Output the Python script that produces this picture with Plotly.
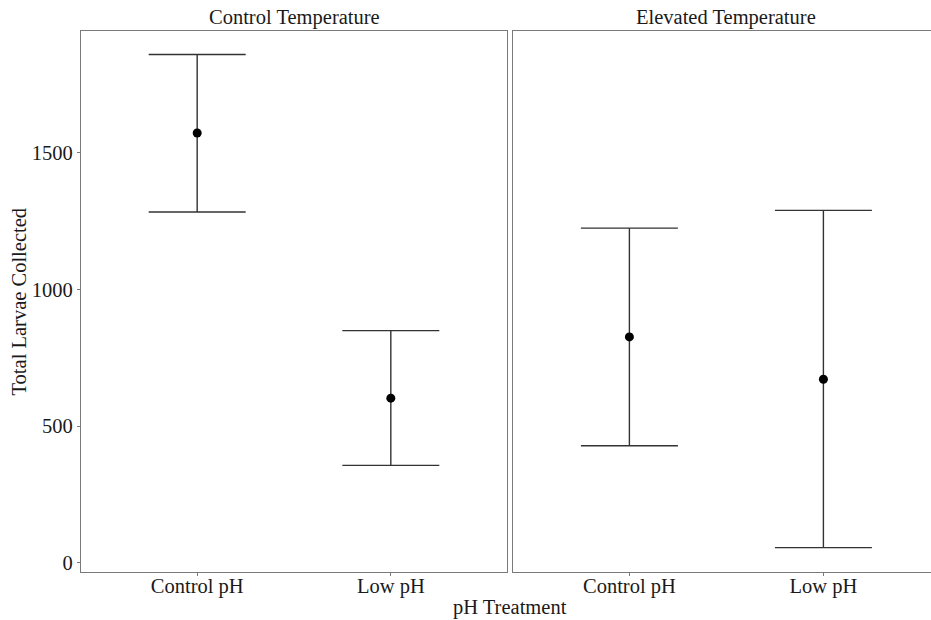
import plotly.graph_objects as go

categories = ["Control pH", "Low pH"]
panels = ["Control Temperature", "Elevated Temperature"]
means_control_temp = [1573, 603]
lower_control_temp = [1284, 357]
upper_control_temp = [1860, 850]
means_elev_temp = [827, 672]
lower_elev_temp = [429, 56]
upper_elev_temp = [1225, 1290]
y_ticks = [0, 500, 1000, 1500]

W, H = 931, 620
ML, MR, MT, MB = 81, 0, 31, 48
PW = W - ML - MR
FONT = "Liberation Serif, Times New Roman, serif"
FS = 20.5
AXC = "#7a7a7a"
BARC = "#333333"

fig = go.Figure()

def add_panel(means, lo, hi, xa, ya):
    fig.add_trace(go.Scatter(
        x=categories, y=means, mode="markers",
        marker=dict(color="black", size=9),
        error_y=dict(type="data", symmetric=False,
                     array=[h - m for h, m in zip(hi, means)],
                     arrayminus=[m - l for m, l in zip(means, lo)],
                     color=BARC, thickness=1.4, width=48.5),
        xaxis=xa, yaxis=ya, showlegend=False, hoverinfo="skip"))

add_panel(means_control_temp, lower_control_temp, upper_control_temp, "x", "y")
add_panel(means_elev_temp, lower_elev_temp, upper_elev_temp, "x2", "y2")

d1 = [0, 426 / PW]
d2 = [432 / PW, 1]
yr = [-33, 1946]
tickfont = dict(family=FONT, size=FS, color="#1a1a1a")

fig.update_layout(
    width=W, height=H, margin=dict(l=ML, r=MR, t=MT, b=MB),
    plot_bgcolor="white", paper_bgcolor="white",
    xaxis=dict(domain=d1, type="category", range=[-0.6, 1.6], showline=True, mirror=True,
               linecolor=AXC, linewidth=1.3, showgrid=False, zeroline=False,
               ticks="outside", ticklen=3, tickcolor=AXC, tickfont=tickfont, anchor="y",
               ticklabelstandoff=-8),
    yaxis=dict(domain=[0, 1], range=yr, tickvals=y_ticks, showline=True, mirror=True,
               linecolor=AXC, linewidth=1.3, showgrid=False, zeroline=False,
               ticks="outside", ticklen=3, tickcolor=AXC, tickfont=tickfont, anchor="x"),
    xaxis2=dict(domain=d2, type="category", range=[-0.6, -0.6 + 418 / 194], showline=True, mirror=True,
                linecolor=AXC, linewidth=1.3, showgrid=False, zeroline=False,
                ticks="outside", ticklen=3, tickcolor=AXC, tickfont=tickfont, anchor="y2",
                ticklabelstandoff=-8),
    yaxis2=dict(domain=[0, 1], range=yr, tickvals=y_ticks, showticklabels=False, ticks="",
                showline=True, mirror=False, linecolor=AXC, linewidth=1.3,
                showgrid=False, zeroline=False, anchor="x2"),
)

ann_font = dict(family=FONT, size=FS, color="#1a1a1a")
fig.add_annotation(text=panels[0], xref="paper", yref="paper", x=213 / PW, y=1,
                   xanchor="center", yshift=0, yanchor="bottom", showarrow=False, font=ann_font)
fig.add_annotation(text=panels[1], xref="paper", yref="paper", x=(726 - ML) / PW, y=1,
                   xanchor="center", yshift=0, yanchor="bottom", showarrow=False, font=ann_font)
fig.add_annotation(text="pH Treatment", xref="paper", yref="paper", x=(510 - ML) / PW, y=0,
                   xanchor="center", yshift=-22, yanchor="top", showarrow=False, font=ann_font)
fig.add_annotation(text="Total Larvae Collected", xref="paper", yref="paper", x=0, y=0.5,
                   xshift=-50, xanchor="right", yanchor="middle", textangle=-90,
                   showarrow=False, font=ann_font)

fig.write_html("out.html")
